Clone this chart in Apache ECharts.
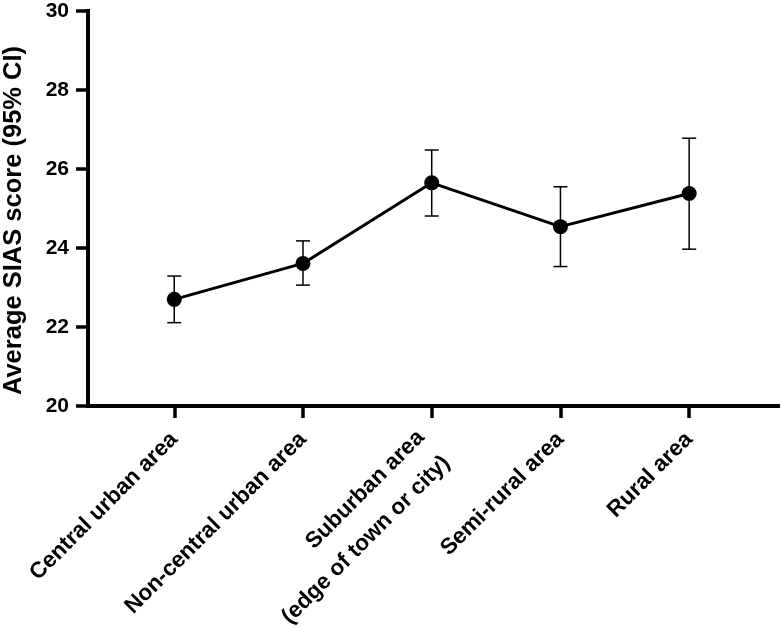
<!DOCTYPE html>
<html>
<head>
<meta charset="utf-8">
<script src="https://cdn.jsdelivr.net/npm/echarts@6/dist/echarts.min.js"></script>
<style>
html,body{margin:0;padding:0;background:#fff;}
#chart{width:781px;height:628px;}
</style>
</head>
<body>
<div id="chart"></div>
<script>
var categories = ['Central urban area', 'Non-central urban area', 'Suburban area\n(edge of town or city)', 'Semi-rural area', 'Rural area'];
var positions = [1, 2, 3, 4, 5];
var means = [22.70, 23.61, 25.65, 24.54, 25.38];
var lowerCI = [22.11, 23.06, 24.81, 23.53, 23.97];
var upperCI = [23.29, 24.18, 26.48, 25.55, 26.78];
var yTicks = [20, 22, 24, 26, 28, 30];

var FONT = '"Liberation Sans", Arial, sans-serif';

var lineData = positions.map(function (p, i) { return [p, means[i]]; });
var errData = positions.map(function (p, i) { return [p, lowerCI[i], upperCI[i]]; });

function fmtLabel(v) {
  var idx = positions.indexOf(Math.round(v));
  if (idx < 0) return '';
  var lines = categories[idx].split('\n');
  if (lines.length === 1) return '{a|' + lines[0] + '}';
  return '{gap| }\n' + lines.map(function (l) { return '{a|' + l + ' }'; }).join('\n');
}

var chart = echarts.init(document.getElementById('chart'), null, {renderer: 'canvas'});
chart.setOption({
  animation: false,
  backgroundColor: '#fff',
  grid: {left: 88, right: 3, top: 11, bottom: 222, containLabel: false, outerBoundsMode: 'none'},
  xAxis: {
    type: 'value',
    min: 0.33,
    max: 5.69,
    splitLine: {show: false},
    axisLine: {show: true, onZero: false, lineStyle: {color: '#000', width: 4, cap: 'square'}},
    axisTick: {show: true, length: 12, lineStyle: {color: '#000', width: 3.5}, customValues: positions},
    axisLabel: {
      customValues: positions,
      rotate: 45,
      margin: 30,
      color: '#000',
      fontFamily: FONT,
      fontWeight: 'bold',
      fontSize: 22.5,
      formatter: fmtLabel,
      rich: {
        a: {color: '#000', fontFamily: FONT, fontWeight: 'bold', fontSize: 22.5, lineHeight: 36},
        gap: {fontSize: 10, lineHeight: 18}
      }
    }
  },
  yAxis: {
    type: 'value',
    min: 20,
    max: 30,
    interval: 2,
    splitLine: {show: false},
    axisLine: {show: true, lineStyle: {color: '#000', width: 4, cap: 'square'}},
    axisTick: {show: true, length: 12, lineStyle: {color: '#000', width: 3.5}},
    axisLabel: {
      margin: 19,
      color: '#000',
      fontFamily: FONT,
      fontWeight: 'bold',
      fontSize: 21,
      customValues: yTicks
    },
    name: 'Average SIAS score (95% CI)',
    nameLocation: 'middle',
    nameGap: 61,
    nameTextStyle: {
      color: '#000',
      fontFamily: FONT,
      fontWeight: 'bold',
      fontSize: 25.5,
      padding: [0, 24, 0, 0]
    }
  },
  series: [
    {
      type: 'custom',
      z: 2,
      data: errData,
      encode: {x: 0, y: [1, 2]},
      renderItem: function (params, api) {
        var x = api.value(0);
        var lo = api.coord([x, api.value(1)]);
        var hi = api.coord([x, api.value(2)]);
        var w = 7;
        var style = {stroke: '#000', lineWidth: 1.5, fill: null};
        return {
          type: 'group',
          children: [
            {type: 'line', shape: {x1: lo[0], y1: lo[1], x2: hi[0], y2: hi[1]}, style: style},
            {type: 'line', shape: {x1: lo[0] - w, y1: lo[1], x2: lo[0] + w, y2: lo[1]}, style: style},
            {type: 'line', shape: {x1: hi[0] - w, y1: hi[1], x2: hi[0] + w, y2: hi[1]}, style: style}
          ]
        };
      }
    },
    {
      type: 'line',
      z: 3,
      data: lineData,
      symbol: 'circle',
      symbolSize: 15,
      lineStyle: {color: '#000', width: 3},
      itemStyle: {color: '#000'}
    }
  ]
});
</script>
</body>
</html>
